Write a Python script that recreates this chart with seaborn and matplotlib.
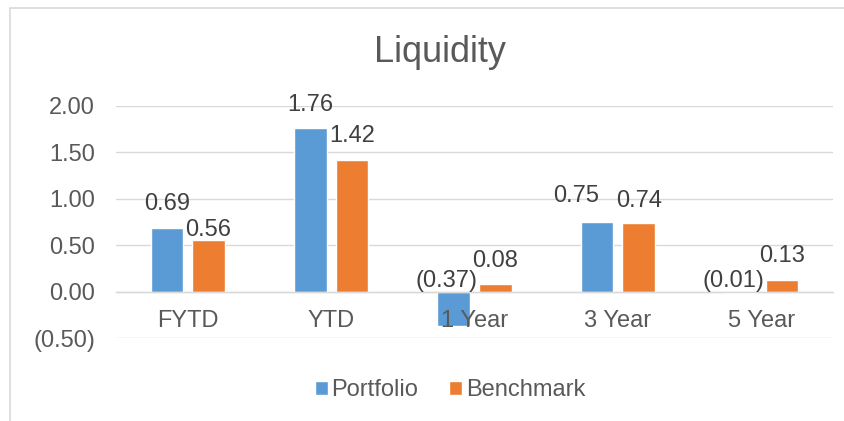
import pandas as pd
import matplotlib.pyplot as plt
import seaborn as sns
from matplotlib.patches import Rectangle

# Data
periods = ["FYTD", "YTD", "1 Year", "3 Year", "5 Year"]
series = ["Portfolio", "Benchmark"]
portfolio = [0.69, 1.76, -0.37, 0.75, -0.01]
benchmark = [0.56, 1.42, 0.08, 0.74, 0.13]
colors = ["#5B9BD5", "#ED7D31"]
y_ticks = [-0.5, 0.0, 0.5, 1.0, 1.5, 2.0]


def acct(v):
    # accounting style: negatives in parentheses
    return f"{v:.2f}" if v >= 0 else f"({-v:.2f})"


df = pd.DataFrame({
    "Period": periods * 2,
    "Value": portfolio + benchmark,
    "Series": [series[0]] * len(periods) + [series[1]] * len(periods),
})

sns.set_theme(style="white")
plt.rcParams["font.family"] = ["Liberation Sans", "DejaVu Sans"]

fig = plt.figure(figsize=(8.45, 4.21), dpi=100)
ax = fig.add_axes([116 / 845, 1 - 338 / 421, 717 / 845, 232 / 421])

sns.barplot(
    data=df, x="Period", y="Value", hue="Series", order=periods,
    hue_order=series, palette=colors, width=0.58, gap=0.22,
    saturation=1, ax=ax,
)

ax.set_ylim(-0.5, 2.0)
ax.set_yticks(y_ticks)
ax.set_yticklabels([acct(t) for t in y_ticks])
ax.grid(axis="y", color="#D9D9D9", linewidth=1.0)
ax.set_axisbelow(True)
for s in ["left", "right", "top"]:
    ax.spines[s].set_visible(False)
ax.spines["bottom"].set_position(("data", 0))
ax.spines["bottom"].set_color("#D9D9D9")
ax.spines["bottom"].set_linewidth(1.0)
ax.tick_params(axis="both", length=0, labelsize=17, labelcolor="#595959")
ax.tick_params(axis="y", pad=15)
ax.set_xticklabels([])
ax.set_xlabel("")
ax.set_ylabel("")

# category labels drawn above the bars (like Excel)
for i, p in enumerate(periods):
    ax.annotate(p, (i, 0), xytext=(0, -13), textcoords="offset points",
                ha="center", va="top", fontsize=17, color="#595959", zorder=5)

# data labels (a couple were nudged by hand in the original)
nudges = {("FYTD", "Benchmark"): (0, -10), ("3 Year", "Portfolio"): (-15, 2),
          ("3 Year", "Benchmark"): (0, -1)}
for cont, name in zip(ax.containers, series):
    for bar, period in zip(cont, periods):
        v = bar.get_height()
        x = bar.get_x() + bar.get_width() / 2
        dx, dy = nudges.get((period, name), (0, 0))
        if v >= 0:
            ax.annotate(acct(v), (x, v), xytext=(dx, 9 + dy), textcoords="offset points",
                        ha="center", va="bottom", fontsize=17, color="#404040")
        else:
            ax.annotate(acct(v), (x, 0), xytext=(-5 + dx, dy), textcoords="offset points",
                        ha="center", va="bottom", fontsize=17, color="#404040")

handles, labels = ax.get_legend_handles_labels()
ax.get_legend().remove()
fig.legend(handles, labels, loc="center", bbox_to_anchor=(450 / 845, 1 - 390 / 421),
           ncol=2, frameon=False, fontsize=17, labelcolor="#595959",
           handlelength=0.55, handleheight=0.55, handletextpad=0.15,
           columnspacing=1.3)

fig.text(440 / 845, 1 - 52 / 421, "Liquidity", ha="center", va="center",
         fontsize=26, color="#595959")

# chart frame (cropped on right/bottom)
fig.add_artist(Rectangle((10 / 845, -0.5), 2, 1.5 - 8 / 421, transform=fig.transFigure,
                         fill=False, edgecolor="#D9D9D9", linewidth=1.2))

fig.savefig("out.png", dpi=100)
